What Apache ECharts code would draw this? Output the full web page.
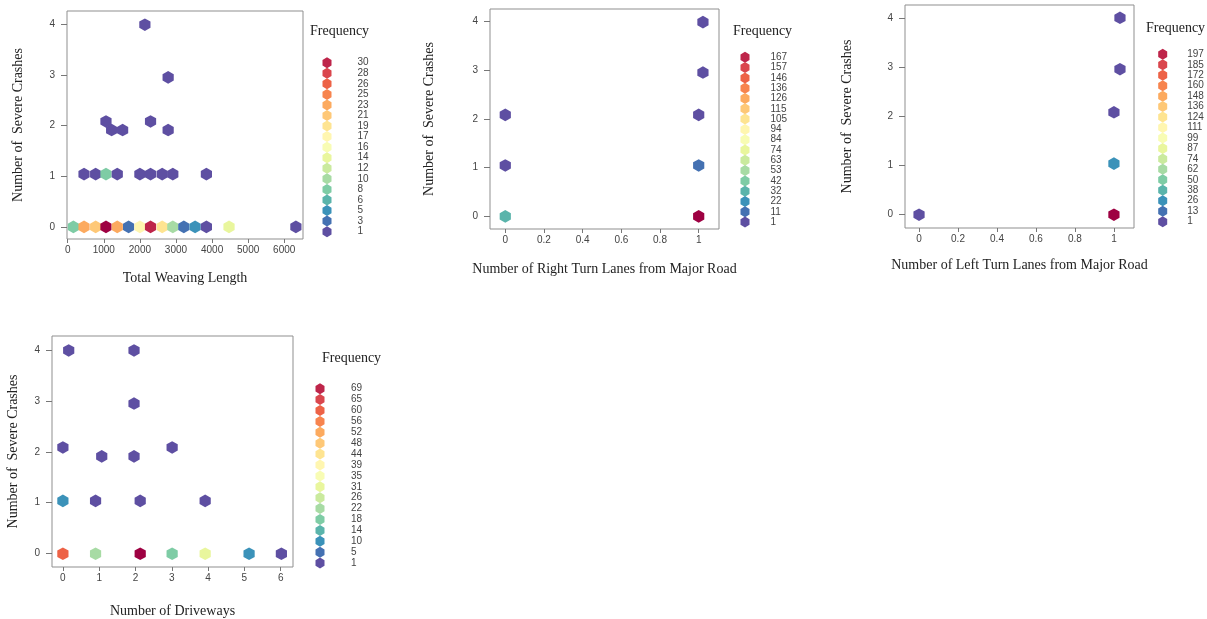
<!DOCTYPE html>
<html><head><meta charset="utf-8">
<script src="https://cdn.jsdelivr.net/npm/echarts@6/dist/echarts.min.js"></script>
<style>html,body{margin:0;padding:0;background:#fff}#c{width:1207px;height:619px}</style>
</head><body><div id="c"></div><script>
// ---------- data ----------
// Panel 1: Total Weaving Length
const p1X = [157,452,774,1060,1373,1687,2000,2295,2618,2912,3217,3530,3843,4470,6323,
             452,774,1060,1373,2000,2295,2618,2912,3843,
             1217,1521,2783, 1060,2295, 2783, 2138];
const p1Y = [0,0,0,0,0,0,0,0,0,0,0,0,0,0,0,
             1.04,1.04,1.04,1.04,1.04,1.04,1.04,1.04,1.04,
             1.91,1.91,1.91, 2.08,2.08, 2.95, 3.99];
const p1Freq = [8,23,21,31,23,3,17,30,19,10,3,5,1,14,1,
                1,1,8,1,1,1,1,1,1,
                1,1,1, 1,1, 1, 1];
const p1Legend = [30,28,26,25,23,21,19,17,16,14,12,10,8,6,5,3,1];
const p1XTicks = [0,1000,2000,3000,4000,5000,6000];

// Panel 2: Number of Right Turn Lanes from Major Road
const p2X = [0,0,0,1,1,1,1.022,1.022];
const p2Y = [0,1.046,2.085,0,1.046,2.085,2.954,3.99];
const p2Freq = [32,1,1,170,11,1,1,1];
const p2Legend = [167,157,146,136,126,115,105,94,84,74,63,53,42,32,22,11,1];

// Panel 3: Number of Left Turn Lanes from Major Road
const p3X = [0,1,1,1,1.031,1.031];
const p3Y = [0,0,1.037,2.08,2.956,4.0];
const p3Freq = [1,200,26,1,1,1];
const p3Legend = [197,185,172,160,148,136,124,111,99,87,74,62,50,38,26,13,1];

const laneTicks = [0,0.2,0.4,0.6,0.8,1];

// Panel 4: Number of Driveways
const p4X = [0,0.90,2.13,3.01,3.92,5.13,6.02, 0,0.90,2.13,3.92, 1.07,1.96, 0,3.01, 1.96, 0.16,1.96];
const p4Y = [0,0,0,0,0,0,0, 1.036,1.036,1.036,1.036, 1.909,1.909, 2.084,2.084, 2.945, 3.987,3.987];
const p4Freq = [60,22,70,18,31,10,1, 10,1,1,1, 1,1, 1,1, 1, 1,1];
const p4Legend = [69,65,60,56,52,48,44,39,35,31,26,22,18,14,10,5,1];
const p4XTicks = [0,1,2,3,4,5,6];

const yTicks = [0,1,2,3,4];
const yName = 'Number of  Severe Crashes';

// ---------- styling helpers ----------
const spectralRev = ['#5E4FA2','#3288BD','#66C2A5','#ABDDA4','#E6F598','#FFFFBF','#FEE08B','#FDAE61','#F46D43','#D53E4F','#9E0142'];
function hexToRgb(h){return [parseInt(h.slice(1,3),16),parseInt(h.slice(3,5),16),parseInt(h.slice(5,7),16)];}
function ramp(cols,n){
  const rgb = cols.map(hexToRgb), out=[];
  for(let i=0;i<n;i++){
    const t=i*(cols.length-1)/(n-1), k=Math.min(Math.floor(t),cols.length-2), f=t-k;
    const c=[0,1,2].map(j=>Math.round(rgb[k][j]+(rgb[k+1][j]-rgb[k][j])*f));
    out.push('rgb('+c.join(',')+')');
  }
  return out;
}
const pal = ramp(spectralRev,18);
const HEX = 'path://M0,-1L0.866,-0.5L0.866,0.5L0,1L-0.866,0.5L-0.866,-0.5Z';
const SERIF = 'Liberation Serif', SANS = 'Liberation Sans';

function grid(l,t,w,h){return {left:l,top:t,width:w,height:h,show:true,borderColor:'#8f8f8f',borderWidth:1,backgroundColor:'transparent'};}
function xAx(gi,min,max,ticks,name,gap){
  return {type:'value',gridIndex:gi,min:min,max:max,name:name,nameLocation:'middle',nameGap:gap,
    nameTextStyle:{fontFamily:SERIF,fontSize:14,color:'#222'},
    axisLine:{show:false,onZero:false},splitLine:{show:false},
    axisTick:{show:true,customValues:ticks,length:4,lineStyle:{color:'#777'}},
    axisLabel:{customValues:ticks,margin:6,fontFamily:SANS,fontSize:10,color:'#444',formatter:v=>String(v)}};
}
function yAx(gi,min,max,gap){
  return {type:'value',gridIndex:gi,min:min,max:max,name:yName,nameLocation:'middle',nameGap:gap,
    nameTextStyle:{fontFamily:SERIF,fontSize:14,color:'#222'},
    axisLine:{show:false,onZero:false},splitLine:{show:false},
    axisTick:{show:true,customValues:yTicks,length:6,lineStyle:{color:'#777'}},
    axisLabel:{customValues:yTicks,margin:12,fontFamily:SANS,fontSize:10,color:'#444'}};
}
function series(i,xs,ys,fs){
  return {type:'scatter',xAxisIndex:i,yAxisIndex:i,symbol:HEX,symbolSize:[11.2,12.6],
    data:xs.map((x,k)=>[x,ys[k],fs[k]]),itemStyle:{opacity:1},emphasis:{disabled:true},silent:true};
}
function vm(i,labels,left,top,gap,textGap){
  return {type:'piecewise',seriesIndex:i,dimension:2,orient:'vertical',align:'left',left:left,top:top,padding:0,
    itemWidth:9,itemHeight:11,itemGap:gap,textGap:textGap,itemSymbol:HEX,selectedMode:false,hoverLink:false,
    pieces:labels.map((v,k)=>({value:v,label:String(v),color:pal[labels.length-1-k]})),
    outOfRange:{color:pal[17]},
    textStyle:{fontFamily:SANS,fontSize:10,color:'#444'}};
}
function freqTitle(l,t){return {text:'Frequency',left:l,top:t,padding:0,textStyle:{fontFamily:SERIF,fontSize:14,fontWeight:'normal',color:'#222',lineHeight:16}};}

const option = {
  animation:false,
  backgroundColor:'#fff',
  title:[freqTitle(310,23),freqTitle(733,23),freqTitle(1146,20),freqTitle(322,350)],
  grid:[grid(67,11,236,228),grid(490,9,229,220),grid(905,5,229,223),grid(52,336,241,233)],
  xAxis:[
    xAx(0,-20,6520,p1XTicks,'Total Weaving Length',32),
    xAx(1,-0.079,1.105,laneTicks,'Number of Right Turn Lanes from Major Road',33),
    xAx(2,-0.072,1.103,laneTicks,'Number of Left Turn Lanes from Major Road',30),
    xAx(3,-0.30,6.34,p4XTicks,'Number of Driveways',37)
  ],
  yAxis:[
    yAx(0,-0.24,4.26,42),
    yAx(1,-0.26,4.26,54),
    yAx(2,-0.27,4.26,51),
    yAx(3,-0.26,4.27,32)
  ],
  visualMap:[
    vm(0,p1Legend,322.5,57.2,-0.44,26),
    vm(1,p2Legend,740.5,51.8,-0.7,21),
    vm(2,p3Legend,1158.2,48.8,-0.54,20),
    vm(3,p4Legend,315.5,383.2,-0.1,26.5)
  ],
  series:[series(0,p1X,p1Y,p1Freq),series(1,p2X,p2Y,p2Freq),series(2,p3X,p3Y,p3Freq),series(3,p4X,p4Y,p4Freq)]
};
const chart = echarts.init(document.getElementById('c'),null,{renderer:'canvas'});
chart.setOption(option);
</script></body></html>
